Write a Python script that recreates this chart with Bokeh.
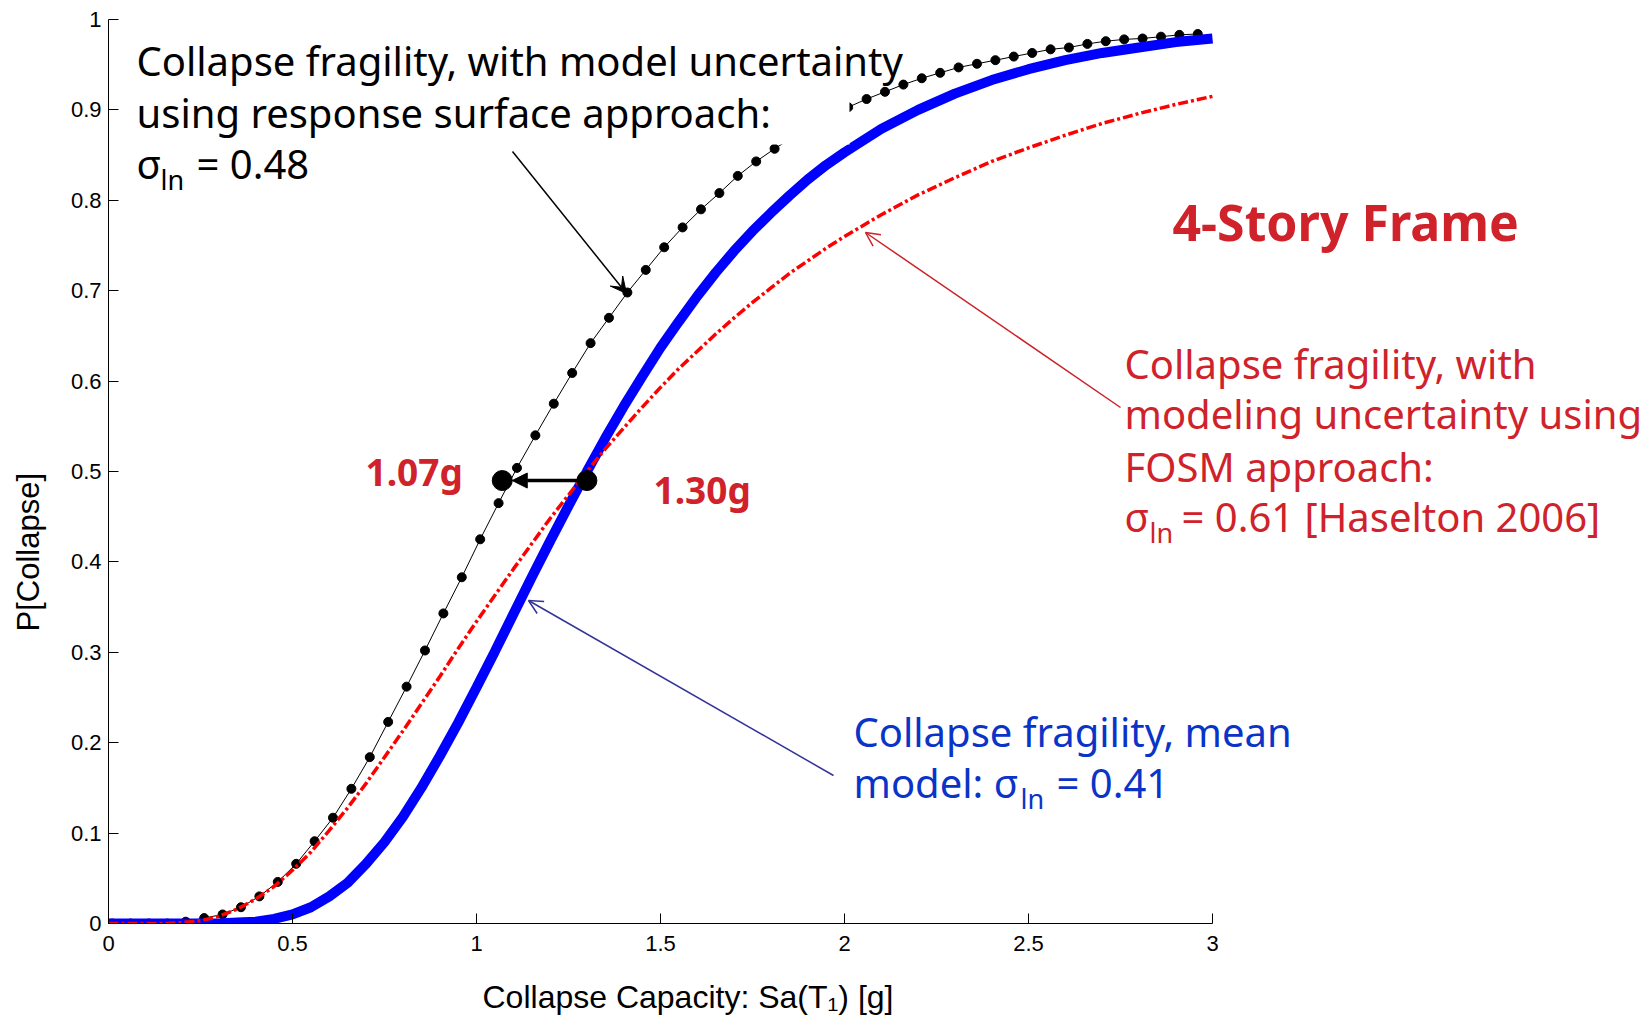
import math

from bokeh.embed import file_html
from bokeh.models import (Arrow, BoxAnnotation, FixedTicker, Label, NormalHead,
                          OpenHead, Range1d, Title, VeeHead)
from bokeh.plotting import figure
from bokeh.resources import INLINE

# ---------------------------------------------------------------------------
# Data
# ---------------------------------------------------------------------------
# Spectral acceleration grid for the smooth fragility curves [g]
sa_grid = [0.00, 0.05, 0.10, 0.15, 0.20, 0.25, 0.30, 0.35, 0.40, 0.45,
           0.50, 0.55, 0.60, 0.65, 0.70, 0.75, 0.80, 0.85, 0.90, 0.95,
           1.00, 1.05, 1.10, 1.15, 1.20, 1.25, 1.30, 1.35, 1.40, 1.45,
           1.50, 1.55, 1.60, 1.65, 1.70, 1.75, 1.80, 1.85, 1.90, 1.95,
           2.00, 2.10, 2.20, 2.30, 2.40, 2.50, 2.60, 2.70, 2.80, 2.90, 3.00]

# Mean model collapse fragility (sigma_ln = 0.41)
p_mean_model = [0.000, 0.000, 0.000, 0.000, 0.000, 0.000, 0.000, 0.001, 0.002, 0.005,
                0.010, 0.018, 0.030, 0.045, 0.066, 0.090, 0.118, 0.150, 0.185, 0.222,
                0.261, 0.301, 0.342, 0.383, 0.423, 0.462, 0.500, 0.537, 0.572, 0.605,
                0.637, 0.666, 0.694, 0.720, 0.744, 0.766, 0.786, 0.805, 0.823, 0.839,
                0.853, 0.879, 0.900, 0.918, 0.933, 0.945, 0.955, 0.963, 0.969, 0.975, 0.979]

# FOSM fragility with modeling uncertainty (sigma_ln = 0.61)
p_fosm = [0.000, 0.000, 0.000, 0.000, 0.001, 0.003, 0.008, 0.016, 0.027, 0.041,
          0.059, 0.079, 0.103, 0.128, 0.155, 0.184, 0.213, 0.243, 0.273, 0.304,
          0.334, 0.363, 0.392, 0.420, 0.448, 0.474, 0.500, 0.525, 0.548, 0.571,
          0.593, 0.614, 0.633, 0.652, 0.670, 0.687, 0.703, 0.719, 0.733, 0.747,
          0.760, 0.784, 0.806, 0.825, 0.843, 0.858, 0.872, 0.885, 0.896, 0.906, 0.915]

# Response-surface fragility with model uncertainty (sigma_ln = 0.48)
sa_rs = [0.01, 0.06, 0.11, 0.16, 0.21, 0.26, 0.31, 0.36, 0.41, 0.46,
         0.51, 0.56, 0.61, 0.66, 0.71, 0.76, 0.81, 0.86, 0.91, 0.96,
         1.01, 1.06, 1.11, 1.16, 1.21, 1.26, 1.31, 1.36, 1.41, 1.46,
         1.51, 1.56, 1.61, 1.66, 1.71, 1.76, 1.81, 1.86, 1.91, 1.96,
         2.01, 2.06, 2.11, 2.16, 2.21, 2.26, 2.31, 2.36, 2.41, 2.46,
         2.51, 2.56, 2.61, 2.66, 2.71, 2.76, 2.81, 2.86, 2.91, 2.96]
p_rs = [0.000, 0.000, 0.000, 0.000, 0.002, 0.006, 0.010, 0.018, 0.030, 0.046,
        0.066, 0.091, 0.117, 0.149, 0.184, 0.223, 0.262, 0.302, 0.343, 0.383,
        0.425, 0.465, 0.504, 0.540, 0.575, 0.609, 0.642, 0.670, 0.698, 0.723,
        0.748, 0.770, 0.790, 0.808, 0.827, 0.843, 0.857, 0.870, 0.882, 0.893,
        0.903, 0.912, 0.920, 0.928, 0.935, 0.941, 0.947, 0.951, 0.955, 0.959,
        0.963, 0.967, 0.969, 0.973, 0.976, 0.978, 0.979, 0.981, 0.983, 0.984]

# Median collapse capacities
median_labels = ["1.07g", "1.30g"]
median_sa = [1.07, 1.30]
median_p = [0.49, 0.49]

x_ticks = [0, 0.5, 1, 1.5, 2, 2.5, 3]
x_tick_labels = ["0", "0.5", "1", "1.5", "2", "2.5", "3"]
y_ticks = [0, 0.1, 0.2, 0.3, 0.4, 0.5, 0.6, 0.7, 0.8, 0.9, 1]
y_tick_labels = ["0", "0.1", "0.2", "0.3", "0.4", "0.5", "0.6", "0.7", "0.8", "0.9", "1"]

x_title = "Collapse Capacity: Sa(T\u2081) [g]"
y_title = "P[Collapse]"

# ---------------------------------------------------------------------------
# Layout: the frame spans the whole canvas right of the y axis and above the
# x axis, so the call-out texts can sit beyond the data area.
# ---------------------------------------------------------------------------
W, H = 1650, 1016
FL, FB = 108, 923                 # pixel position of the (0, 0) corner
X_SPAN, Y_SPAN = 3.0, 1.0         # data extent of the axes
PX_PER_X = (1212 - FL) / X_SPAN
PX_PER_Y = (FB - 19) / Y_SPAN


def dx(px):
    """Horizontal canvas pixel -> data x."""
    return (px - FL) / PX_PER_X


def dy(px):
    """Vertical canvas pixel (from top) -> data y."""
    return (FB - px) / PX_PER_Y


RED_TXT = "#D0222A"
BLUE_TXT = "#0A34C8"
ANNOT_FONT = "Noto Sans"
AXIS_FONT = "Liberation Sans"

p = figure(width=W, height=H, output_backend="svg", toolbar_location=None,
           x_range=Range1d(0, dx(W)), y_range=Range1d(0, dy(0)),
           min_border_left=FL, min_border_right=0,
           min_border_top=0, min_border_bottom=H - FB,
           background_fill_color="white", border_fill_color="white")
p.outline_line_color = None
p.grid.visible = False

for ax in (p.xaxis, p.yaxis):
    ax.axis_line_color = "black"
    ax.axis_line_width = 1
    ax.major_tick_line_color = "black"
    ax.major_tick_in = 10
    ax.major_tick_out = 0
    ax.minor_tick_line_color = None
    ax.major_label_text_font = AXIS_FONT
    ax.major_label_text_font_size = "22px"
    ax.major_label_text_color = "black"
    # blank label used only as spacing between tick labels and axis title
    ax.axis_label = " "
    ax.axis_label_text_font_size = "2px"

p.xaxis.bounds = (0, X_SPAN)
p.xaxis.ticker = FixedTicker(ticks=x_ticks)
p.xaxis.major_label_overrides = dict(zip(x_ticks, x_tick_labels))
p.xaxis.major_label_standoff = 12
p.xaxis.axis_label_standoff = 18

p.yaxis.bounds = (0, Y_SPAN)
p.yaxis.ticker = FixedTicker(ticks=y_ticks)
p.yaxis.major_label_overrides = dict(zip(y_ticks, y_tick_labels))
p.yaxis.major_label_standoff = 7
p.yaxis.axis_label_standoff = 17

# axis titles
p.add_layout(Title(text=x_title, align="left", offset=374, standoff=0,
                   text_font=AXIS_FONT, text_font_size="32px",
                   text_font_style="normal", text_color="black"), "below")
p.add_layout(Title(text=y_title, align="left", offset=292, standoff=0,
                   text_font=AXIS_FONT, text_font_size="31px",
                   text_font_style="normal", text_color="black"), "left")

# ---------------------------------------------------------------------------
# Curves
# ---------------------------------------------------------------------------
p.line(sa_rs, p_rs, line_color="black", line_width=1)
p.scatter(sa_rs, p_rs, size=9, marker="circle", fill_color="black", line_color="black")
p.line(sa_grid, p_mean_model, line_color="#0000FF", line_width=10)
p.line(sa_grid, p_fosm, line_color="#FF0000", line_width=3.5, line_dash="10 3 3 3")

DOT_SIZE = 20
p.scatter(median_sa, median_p, size=DOT_SIZE, marker="circle",
          fill_color="black", line_color="black")

# arrow from the mean-model median to the response-surface median
p.add_layout(Arrow(end=NormalHead(size=15, fill_color="black", line_color="black"),
                   x_start=median_sa[1], y_start=median_p[1],
                   x_end=median_sa[0] + (DOT_SIZE / 2) / PX_PER_X, y_end=median_p[0],
                   line_color="black", line_width=3.5))

# ---------------------------------------------------------------------------
# Call-out arrows
# ---------------------------------------------------------------------------
p.add_layout(Arrow(end=VeeHead(size=16, fill_color="black", line_color="black"),
                   x_start=dx(512), y_start=dy(151), x_end=dx(626), y_end=dy(293),
                   line_color="black", line_width=1.5))
p.add_layout(Arrow(end=OpenHead(size=14, line_color="#CC2229", line_width=1.5),
                   x_start=dx(1120), y_start=dy(407), x_end=dx(865), y_end=dy(232),
                   line_color="#CC2229", line_width=1.5))
p.add_layout(Arrow(end=OpenHead(size=14, line_color="#333399", line_width=1.5),
                   x_start=dx(833), y_start=dy(775), x_end=dx(528), y_end=dy(600),
                   line_color="#333399", line_width=1.5))

# white backdrop of the upper-left text block
p.add_layout(BoxAnnotation(left=dx(130), right=dx(849), bottom=dy(144), top=dy(0),
                           fill_color="white", fill_alpha=1.0, line_color=None,
                           line_alpha=0))


def text(s, px, base, size, color, font=ANNOT_FONT, style="normal"):
    """Place a text whose baseline sits at canvas pixel row `base`."""
    p.add_layout(Label(x=dx(px), y=dy(base - 0.39 * size), text=s, text_font=font,
                       text_font_size=f"{size}px", text_font_style=style,
                       text_color=color, text_align="left",
                       text_baseline="alphabetic"))


# response-surface annotation
text("Collapse fragility, with model uncertainty", 136, 76, 40, "black")
text("using response surface approach:", 136, 128, 40, "black")
text("\u03c3", 136, 179, 40, "black")
text("ln", 160, 190, 27, "black")
text("= 0.48", 196, 179, 40, "black")

# FOSM annotation
text("Collapse fragility, with", 1124, 379, 40, RED_TXT)
text("modeling uncertainty using", 1124, 429, 40, RED_TXT)
text("FOSM approach:", 1124, 482, 40, RED_TXT)
text("\u03c3", 1124, 532, 40, RED_TXT)
text("ln", 1149, 543, 27, RED_TXT)
text("= 0.61 [Haselton 2006]", 1181, 532, 40, RED_TXT)

# mean model annotation
text("Collapse fragility, mean", 853, 747, 40, BLUE_TXT)
text("model: \u03c3", 853, 798, 40, BLUE_TXT)
text("ln", 1020, 809, 27, BLUE_TXT)
text("= 0.41", 1056, 798, 40, BLUE_TXT)

# heading and median values
text("4-Story Frame", 1172, 241, 50, RED_TXT, style="bold")
text(median_labels[0], 365, 485, 37, RED_TXT, style="bold")
text(median_labels[1], 653, 503, 37, RED_TXT, style="bold")

open("out.html", "w").write(file_html(p, INLINE))
